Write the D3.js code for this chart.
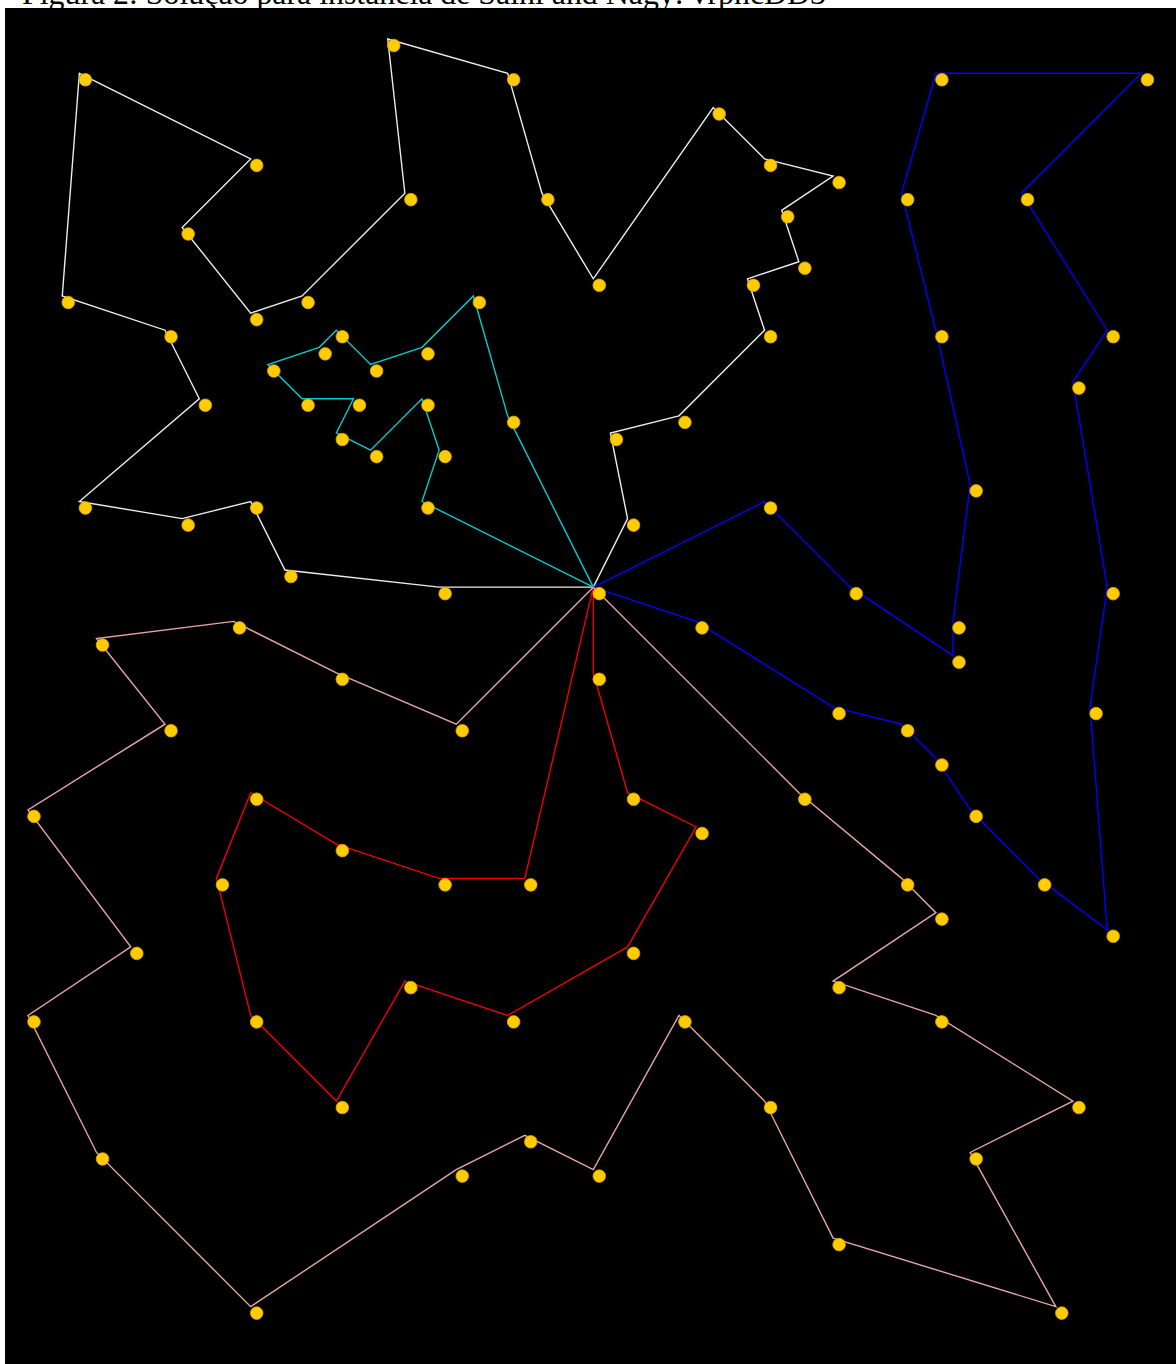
<!DOCTYPE html>
<html>
<head>
<meta charset="utf-8">
<script src="https://cdn.jsdelivr.net/npm/d3@7"></script>
<style>
  html, body { margin: 0; padding: 0; background: #fff; overflow: hidden; }
</style>
</head>
<body>
<div id="plot"></div>
<script>
// grid coordinates of the instance (x, y), y grows downwards
const depot = [33, 32]

const whiteRoute = [[24, 32], [15, 31], [13, 27], [9, 28], [3, 27], [10, 21], [8, 17], [2, 15], [3, 2], [13, 7],
    [9, 11], [13, 16], [16, 15], [22, 9], [21, 0], [28, 2], [30, 9], [33, 14], [40, 4], [43, 7], [47, 8], [44, 10],
    [45, 13], [42, 14], [43, 17], [38, 22], [34, 23], [35, 28]]

const cyanRoute = [[28, 22], [26, 15], [23, 18], [20, 19], [18, 17], [17, 18], [14, 19], [16, 21], [19, 21],
    [18, 23], [20, 24], [23, 21], [24, 24], [23, 27]]

const blueRoute = [[43, 27], [48, 32], [54, 36], [54, 34], [55, 26], [53, 17], [51, 9], [53, 2], [65, 2], [58, 9],
    [63, 17], [61, 20], [63, 32], [62, 39], [63, 52], [59, 49], [55, 45], [53, 42], [51, 40], [47, 39], [39, 34]]

const redRoute = [[33, 37], [35, 44], [39, 46], [35, 53], [28, 57], [22, 55], [18, 62], [13, 57], [11, 49],
    [13, 44], [18, 47], [24, 49], [29, 49]]

const pinkRoute = [[25, 40], [18, 37], [12, 34], [4, 35], [8, 40], [0, 45], [6, 53], [0, 57], [4, 65], [13, 74],
    [25, 66], [29, 64], [33, 66], [38, 57], [43, 62], [47, 70], [60, 74], [55, 65], [61, 62], [53, 57], [47, 55],
    [53, 51], [51, 49], [45, 44]]

const routes = [whiteRoute, cyanRoute, blueRoute, redRoute, pinkRoute]
const routeColors = ["#ececec", "#00cccc", "#0000ff", "#ee0000", "#e6a6a6"]

const title = "Figura 2: Solução para instância de Salhi and Nagy: vrpncDD3"

let width = 1176
let height = 1364

let svg = d3.select("#plot")
    .append("svg")
    .attr("width", width)
    .attr("height", height)

// black drawing area
svg.append("rect")
    .attr("x", 5)
    .attr("y", 8)
    .attr("width", width - 5)
    .attr("height", height - 8)
    .attr("fill", "#000")

// title, mostly cut off at the top of the picture (as in the source figure)
svg.append("text")
    .attr("x", 22)
    .attr("y", 4)
    .attr("font-family", "'Liberation Serif', 'Times New Roman', serif")
    .attr("font-size", 31)
    .attr("textLength", 804)
    .attr("lengthAdjust", "spacingAndGlyphs")
    .attr("fill", "#000")
    .text(title)

let x = d3.scaleLinear()
    .domain([0, 65])
    .range([28, 28 + 65 * 17.13])

let y = d3.scaleLinear()
    .domain([0, 74])
    .range([39, 39 + 74 * 17.13])

let line = d3.line()
    .x(d => x(d[0]))
    .y(d => y(d[1]))

svg.selectAll(".route")
    .data(routes)
    .enter()
    .append("path")
    .attr("class", "route")
    .attr("fill", "none")
    .attr("stroke", (d, i) => routeColors[i])
    .attr("stroke-width", 1.4)
    .attr("d", d => line([depot, ...d, depot]))

// the markers sit a little below-right of the route vertices
let allPoints = [depot].concat(...routes)

svg.selectAll(".stop")
    .data(allPoints)
    .enter()
    .append("circle")
    .attr("class", "stop")
    .attr("cx", d => x(d[0]) + 6)
    .attr("cy", d => y(d[1]) + 6.5)
    .attr("r", 6.3)
    .attr("fill", "#ffcc00")
    .attr("stroke", "#e0a400")
    .attr("stroke-width", 0.8)
</script>
</body>
</html>
